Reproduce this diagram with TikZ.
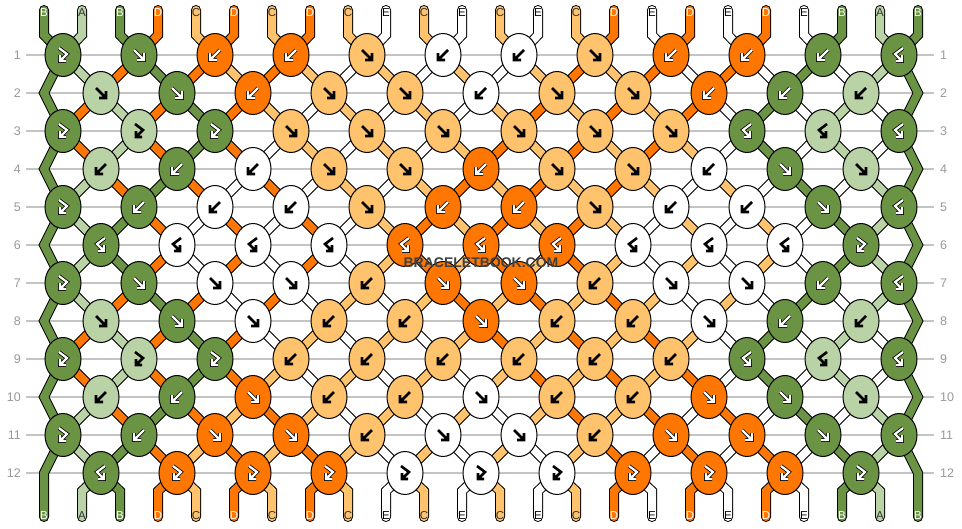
\documentclass[tikz,border=0pt]{standalone}
\usepackage{fontspec}
\setmainfont{Liberation Sans}
\usetikzlibrary{shapes.geometric}
\definecolor{sA}{HTML}{BAD3A6}
\definecolor{sB}{HTML}{6A9444}
\definecolor{sC}{HTML}{FFC36E}
\definecolor{sD}{HTML}{FF7700}
\definecolor{sE}{HTML}{FFFFFF}
\definecolor{lA}{HTML}{333333}
\definecolor{lB}{HTML}{FFFFFF}
\definecolor{lC}{HTML}{333333}
\definecolor{lD}{HTML}{FFFFFF}
\definecolor{lE}{HTML}{000000}
\definecolor{gridgray}{HTML}{C4C4C4}
\definecolor{numgray}{HTML}{999999}
\definecolor{wmgray}{HTML}{404040}
% string order after each row
\expandafter\def\csname S0\endcsname{B,A,B,D,C,D,C,D,C,E,C,E,C,E,C,D,E,D,E,D,E,B,A,B}
\expandafter\def\csname S1\endcsname{B,A,D,B,D,C,D,C,E,C,E,C,E,C,D,C,D,E,D,E,B,E,A,B}
\expandafter\def\csname S2\endcsname{B,D,A,D,B,D,C,E,C,E,C,E,C,D,C,D,C,D,E,B,E,A,E,B}
\expandafter\def\csname S3\endcsname{B,D,A,D,B,D,E,C,E,C,E,C,D,C,D,C,D,C,E,B,E,A,E,B}
\expandafter\def\csname S4\endcsname{B,A,D,B,D,E,D,E,C,E,C,D,C,D,C,D,C,E,C,E,B,E,A,B}
\expandafter\def\csname S5\endcsname{B,A,B,D,E,D,E,D,E,C,D,C,D,C,D,C,E,C,E,C,E,B,A,B}
\expandafter\def\csname S6\endcsname{B,A,B,D,E,D,E,D,E,C,D,C,D,C,D,C,E,C,E,C,E,B,A,B}
\expandafter\def\csname S7\endcsname{B,A,D,B,D,E,D,E,C,E,C,D,C,D,C,D,C,E,C,E,B,E,A,B}
\expandafter\def\csname S8\endcsname{B,D,A,D,B,D,E,C,E,C,E,C,D,C,D,C,D,C,E,B,E,A,E,B}
\expandafter\def\csname S9\endcsname{B,D,A,D,B,D,C,E,C,E,C,E,C,D,C,D,C,D,E,B,E,A,E,B}
\expandafter\def\csname S10\endcsname{B,A,D,B,D,C,D,C,E,C,E,C,E,C,D,C,D,E,D,E,B,E,A,B}
\expandafter\def\csname S11\endcsname{B,A,B,D,C,D,C,D,C,E,C,E,C,E,C,D,E,D,E,D,E,B,A,B}
\expandafter\def\csname S12\endcsname{B,A,B,D,C,D,C,D,C,E,C,E,C,E,C,D,E,D,E,D,E,B,A,B}
% knots: type/colour  (1 forward, 2 backward, 3 forward-backward, 4 backward-forward)
\expandafter\def\csname K1\endcsname{3/B,1/B,2/D,2/D,1/C,2/E,2/E,1/C,2/D,2/D,2/B,4/B}
\expandafter\def\csname K2\endcsname{1/A,1/B,2/D,1/C,1/C,2/E,1/C,1/C,2/D,2/B,2/A}
\expandafter\def\csname K3\endcsname{3/B,3/A,3/B,1/C,1/C,1/C,1/C,1/C,1/C,4/B,4/A,4/B}
\expandafter\def\csname K4\endcsname{2/A,2/B,2/E,1/C,1/C,2/D,1/C,1/C,2/E,1/B,1/A}
\expandafter\def\csname K5\endcsname{3/B,2/B,2/E,2/E,1/C,2/D,2/D,1/C,2/E,2/E,1/B,4/B}
\expandafter\def\csname K6\endcsname{4/B,4/E,4/E,4/E,4/D,4/D,4/D,4/E,4/E,4/E,3/B}
\expandafter\def\csname K7\endcsname{3/B,1/B,1/E,1/E,2/C,1/D,1/D,2/C,1/E,1/E,2/B,4/B}
\expandafter\def\csname K8\endcsname{1/A,1/B,1/E,2/C,2/C,1/D,2/C,2/C,1/E,2/B,2/A}
\expandafter\def\csname K9\endcsname{3/B,3/A,3/B,2/C,2/C,2/C,2/C,2/C,2/C,4/B,4/A,4/B}
\expandafter\def\csname K10\endcsname{2/A,2/B,1/D,2/C,2/C,1/E,2/C,2/C,1/D,1/B,1/A}
\expandafter\def\csname K11\endcsname{3/B,2/B,1/D,1/D,2/C,1/E,1/E,2/C,1/D,1/D,1/B,4/B}
\expandafter\def\csname K12\endcsname{4/B,3/D,3/D,3/D,3/E,3/E,3/E,3/D,3/D,3/D,3/B}
\newcommand\gwhite[1]{\draw[black,line width=3.8pt,line join=miter] #1; \draw[white,line width=2.2pt,line join=miter] #1;}
\newcommand\gblack[1]{\draw[black,line width=2.6pt,line join=miter] #1;}
\newcommand\glyphpath[2]{\if#1B\gwhite{#2}\else\if#1D\gwhite{#2}\else\gblack{#2}\fi\fi}
\newcommand\knotglyph[4]{%
 \begin{scope}[shift={(#3,#4)}]
 \ifcase#1\relax\or
  \glyphpath{#2}{(-5,-5) -- (5,5) (5,-2) -- (5,5) -- (-2,5)}%
 \or
  \glyphpath{#2}{(5,-5) -- (-5,5) (-5,-2) -- (-5,5) -- (2,5)}%
 \or
  \glyphpath{#2}{(-4,-7) -- (4,-1) -- (-3,6) (-3,0) -- (-3,6) -- (3,6)}%
 \or
  \glyphpath{#2}{(4,-7) -- (-4,-1) -- (3,6) (3,0) -- (3,6) -- (-3,6)}%
 \fi
 \end{scope}}
\begin{document}
\begin{tikzpicture}[x=1pt,y=-1pt,
  sout/.style={line width=10pt, draw=black},
  sin/.style={line width=8pt, draw=#1},
  knot/.style={ellipse, draw=black, line width=1pt, minimum width=36pt, minimum height=43pt, inner sep=0pt},
  gridline/.style={draw=gridgray, line width=1.2pt},
  rownum/.style={text=numgray, font=\fontsize{12.5}{14}\selectfont, inner sep=0pt},
  strlabel/.style={font=\fontsize{11.5}{13}\selectfont, inner sep=0pt},
  wmark/.style={font=\bfseries\fontsize{14}{16}\selectfont, text=wmgray, inner sep=0pt}]
\useasboundingbox (0,0) rectangle (962,528);
\fill[white] (0,0) rectangle (962,528);
% grid lines and row numbers
\foreach \r in {1,...,12}{
  \pgfmathsetmacro\y{55+38*(\r-1)}
  \draw[gridline] (26,\y) -- (934,\y);
  \node[rownum, anchor=east] (rl-\r) at (21,\y) {\r};
  \node[rownum, anchor=west] (rr-\r) at (940,\y) {\r};
}
% top strings
\edef\lst{\csname S0\endcsname}
\foreach \c [count=\i] in \lst {
  \ifnum\i>1 \ifnum\i<24
  \pgfmathsetmacro\xs{44+38*(\i-1)}
  \pgfmathtruncatemacro\ho{(\i+1)/2}
  \pgfmathsetmacro\xk{76*\ho-13}
  \draw[sout, line cap=round, line join=miter] (\xs,10) -- (\xs,35) -- (\xk,55);
  \draw[sin=s\c, line cap=round, line join=miter] (\xs,10) -- (\xs,35) -- (\xk,55);
  \fi\fi
}
% bottom strings
\edef\lst{\csname S12\endcsname}
\foreach \c [count=\i] in \lst {
  \ifnum\i>1 \ifnum\i<24
  \pgfmathsetmacro\xs{44+38*(\i-1)}
  \pgfmathtruncatemacro\he{\i/2}
  \pgfmathsetmacro\xk{76*\he+25}
  \draw[sout, line cap=round, line join=miter] (\xk,473) -- (\xs,491) -- (\xs,517);
  \draw[sin=s\c, line cap=round, line join=miter] (\xk,473) -- (\xs,491) -- (\xs,517);
  \fi\fi
}
% edge strings
\draw[sout, line cap=round, line join=miter] (44,10) -- (44,35) foreach \j in {0,...,5}{ -- (63,{55+76*\j}) -- (44,{93+76*\j}) } -- (44,517);
\draw[sin=sB, line cap=round, line join=miter] (44,10) -- (44,35) foreach \j in {0,...,5}{ -- (63,{55+76*\j}) -- (44,{93+76*\j}) } -- (44,517);
\draw[sout, line cap=round, line join=miter] (918,10) -- (918,35) foreach \j in {0,...,5}{ -- (899,{55+76*\j}) -- (918,{93+76*\j}) } -- (918,517);
\draw[sin=sB, line cap=round, line join=miter] (918,10) -- (918,35) foreach \j in {0,...,5}{ -- (899,{55+76*\j}) -- (918,{93+76*\j}) } -- (918,517);
% segments between knot rows
\foreach \r in {1,...,11}{
  \pgfmathsetmacro\ya{55+38*(\r-1)}
  \pgfmathsetmacro\yb{55+38*\r}
  \edef\lst{\csname S\r\endcsname}
  \foreach \c [count=\i] in \lst {
    \ifnum\i>1 \ifnum\i<24
      \pgfmathtruncatemacro\ho{(\i+1)/2}
      \pgfmathtruncatemacro\he{\i/2}
      \ifodd\r
        \pgfmathsetmacro\xa{76*\ho-13}
        \pgfmathsetmacro\xb{76*\he+25}
      \else
        \pgfmathsetmacro\xa{76*\he+25}
        \pgfmathsetmacro\xb{76*\ho-13}
      \fi
      \draw[sout] (\xa,\ya) -- (\xb,\yb);
      \draw[sin=s\c] (\xa,\ya) -- (\xb,\yb);
    \fi\fi
  }
}
% knots
\foreach \r in {1,...,12}{
  \pgfmathsetmacro\y{55+38*(\r-1)}
  \edef\lst{\csname K\r\endcsname}
  \foreach \t/\c [count=\k] in \lst {
    \ifodd\r
      \pgfmathsetmacro\x{76*\k-13}
    \else
      \pgfmathsetmacro\x{76*\k+25}
    \fi
    \node[knot, fill=s\c] (k-\r-\k) at (\x,\y) {};
    \knotglyph{\t}{\c}{\x}{\y}
  }
}
% string labels
\edef\lst{\csname S0\endcsname}
\foreach \c [count=\i] in \lst {
  \pgfmathsetmacro\xs{44+38*(\i-1)}
  \node[strlabel, text=l\c] (tl-\i) at (\xs,12.5) {\c};
}
\edef\lst{\csname S12\endcsname}
\foreach \c [count=\i] in \lst {
  \pgfmathsetmacro\xs{44+38*(\i-1)}
  \node[strlabel, text=l\c] (bl-\i) at (\xs,515.5) {\c};
}
% watermark
\node[wmark] (wm) at (481,263) {BRACELETBOOK.COM};
\end{tikzpicture}
\end{document}
